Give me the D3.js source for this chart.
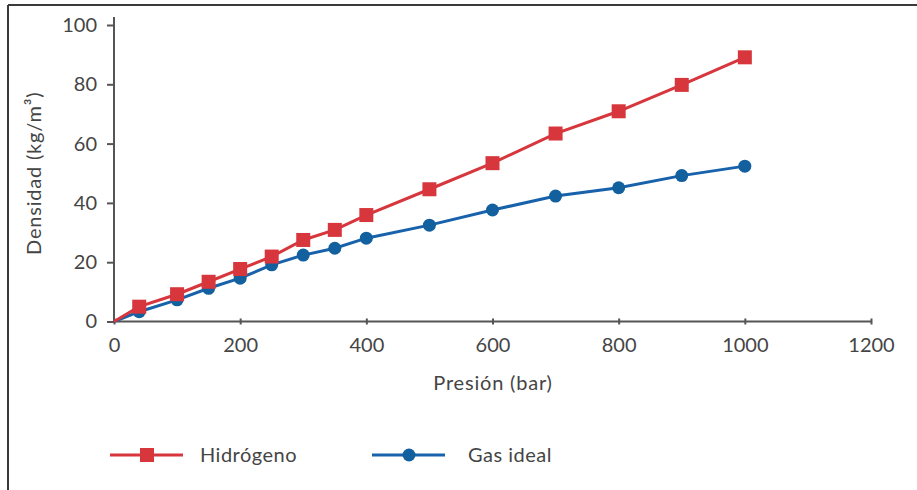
<!DOCTYPE html>
<html>
<head>
<meta charset="utf-8">
<script src="https://cdn.jsdelivr.net/npm/d3@7"></script>
<style>
  body { margin: 0; background: #fff; }
  svg text { font-family: Lato, "Open Sans", sans-serif; fill: #454545; }
</style>
</head>
<body>
<svg width="917" height="490"></svg>
<script>
// data (the curves start at the origin, no marker there)
var presion = [0, 40, 100, 150, 200, 250, 300, 350, 400, 500, 600, 700, 800, 900, 1000];
var hidrogeno = [0, 5.0, 9.2, 13.4, 17.7, 21.9, 27.5, 30.9, 35.9, 44.6, 53.4, 63.4, 70.9, 79.8, 89.1];
var gasIdeal = [0, 3.3, 7.3, 11.2, 14.6, 19.1, 22.4, 24.7, 28.1, 32.5, 37.6, 42.3, 45.1, 49.2, 52.4];
var xTicks = [0, 200, 400, 600, 800, 1000, 1200];
var yTicks = [0, 20, 40, 60, 80, 100];

var red = "#d6363c", blue = "#1762aa";

var svg = d3.select("svg");

// frame (only top and left edges show)
svg.append("line").attr("x1", 8).attr("x2", 917).attr("y1", 5).attr("y2", 5)
  .attr("stroke", "#3a3a3a").attr("stroke-width", 2);
svg.append("line").attr("x1", 8).attr("x2", 8).attr("y1", 5).attr("y2", 490)
  .attr("stroke", "#3a3a3a").attr("stroke-width", 2);

var x = d3.scaleLinear().domain([0, 1200]).range([114, 871]);
var y = d3.scaleLinear().domain([0, 100]).range([321.5, 25]);

var rows = presion.map(function(p, i) {
  return {p: p, h: hidrogeno[i], g: gasIdeal[i]};
});

// axes
var xAxis = svg.append("g")
  .attr("transform", "translate(0," + y(0) + ")")
  .call(d3.axisBottom(x).tickValues(xTicks).tickFormat(d3.format("d"))
    .tickSize(6).tickSizeOuter(0).tickPadding(5));
xAxis.select(".domain").attr("d", "M" + x(0) + ",0H" + x(1200));
xAxis.selectAll(".tick line").attr("y1", -3).attr("y2", 3);

var yAxis = svg.append("g")
  .attr("transform", "translate(" + x(0) + ",0)")
  .call(d3.axisLeft(y).tickValues(yTicks).tickSize(7).tickSizeOuter(0).tickPadding(10));
yAxis.select(".domain").attr("d", "M0," + (y(100) - 8) + "V" + y(0));

svg.selectAll(".domain, .tick line").attr("stroke", "#555").attr("stroke-width", 2);
svg.selectAll(".tick text").style("font-size", "20px").attr("fill", "#454545");
xAxis.selectAll(".tick text").attr("dy", "0.95em");

svg.append("text")
  .attr("x", 493)
  .attr("y", 390)
  .attr("text-anchor", "middle")
  .style("font-size", "20px")
  .style("letter-spacing", "0.8px")
  .text("Presión (bar)");

svg.append("text")
  .attr("transform", "translate(41," + y(50) + ") rotate(-90)")
  .attr("text-anchor", "middle")
  .style("font-size", "20px")
  .style("letter-spacing", "0.8px")
  .text("Densidad (kg/m³)");

// series
var line = function(key) {
  return d3.line()
    .x(function(d) { return x(d.p); })
    .y(function(d) { return y(d[key]); });
};

svg.append("path").datum(rows)
  .attr("fill", "none").attr("stroke", blue).attr("stroke-width", 3)
  .attr("d", line("g"));
svg.append("path").datum(rows)
  .attr("fill", "none").attr("stroke", red).attr("stroke-width", 3)
  .attr("d", line("h"));

var pts = rows.filter(function(d) { return d.p > 0; });

svg.selectAll(".dot")
  .data(pts)
  .enter()
  .append("circle")
  .attr("class", "dot")
  .attr("cx", function(d) { return x(d.p); })
  .attr("cy", function(d) { return y(d.g); })
  .attr("r", 6.5)
  .attr("fill", "#13609e");

svg.selectAll(".sq")
  .data(pts)
  .enter()
  .append("rect")
  .attr("class", "sq")
  .attr("x", function(d) { return x(d.p) - 7; })
  .attr("y", function(d) { return y(d.h) - 7; })
  .attr("width", 14)
  .attr("height", 14)
  .attr("fill", red);

// legend
var legend = svg.append("g").attr("transform", "translate(0,455)");
legend.append("line").attr("x1", 110).attr("x2", 183).attr("stroke", red).attr("stroke-width", 3);
legend.append("rect").attr("x", 140).attr("y", -7).attr("width", 14).attr("height", 14).attr("fill", red);
legend.append("text").attr("x", 200).attr("y", 7).style("font-size", "20px")
  .style("letter-spacing", "0.5px").text("Hidrógeno");

legend.append("line").attr("x1", 372).attr("x2", 445).attr("stroke", blue).attr("stroke-width", 3);
legend.append("circle").attr("cx", 409).attr("cy", 0).attr("r", 6.5).attr("fill", "#13609e");
legend.append("text").attr("x", 468).attr("y", 7).style("font-size", "20px")
  .style("letter-spacing", "0.5px").text("Gas ideal");
</script>
</body>
</html>
